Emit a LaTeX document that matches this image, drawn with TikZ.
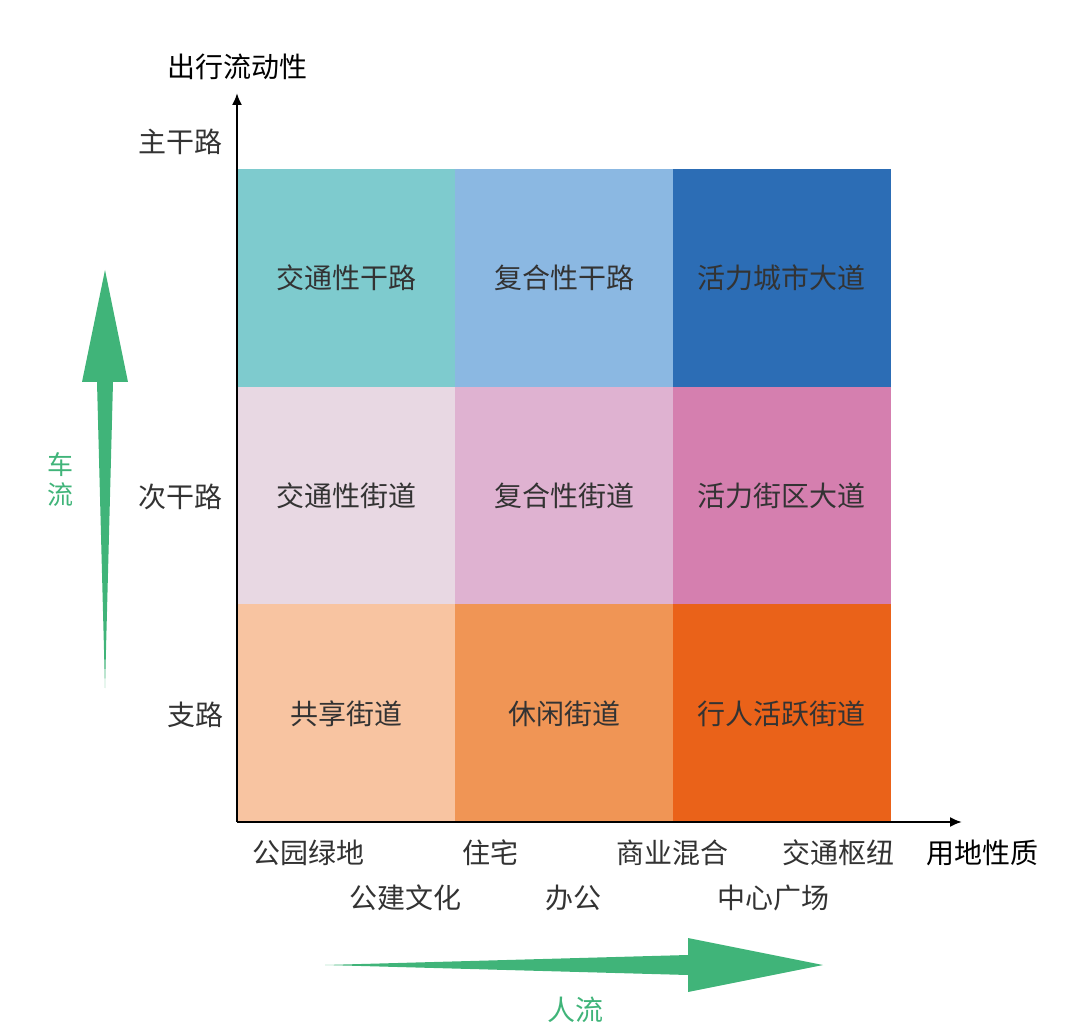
\documentclass[tikz,border=0pt]{standalone}
\usepackage{fontspec}
\setmainfont{Noto Sans CJK SC}
\usetikzlibrary{arrows.meta}
\begin{document}
\begin{tikzpicture}[x=1pt,y=-1pt,
  txt/.style={text=black!80,font=\fontsize{28}{30}\selectfont,inner sep=0pt},
  cell/.style={txt}]
\definecolor{g}{HTML}{40B479}
\useasboundingbox (0,0) rectangle (1069,1032);
\definecolor{c11}{HTML}{7ECBCE}\definecolor{c12}{HTML}{8BB8E2}\definecolor{c13}{HTML}{2C6DB5}
\definecolor{c21}{HTML}{E8D8E3}\definecolor{c22}{HTML}{DFB2D1}\definecolor{c23}{HTML}{D57FAF}
\definecolor{c31}{HTML}{F8C4A1}\definecolor{c32}{HTML}{F09555}\definecolor{c33}{HTML}{EA6219}
\foreach \c/\x in {1/237,2/455,3/673}{
 \foreach \r/\y in {1/169,2/387,3/604}{
  \fill[c\r\c] (\x,\y) rectangle (\x+218,\y+218);}}
\node[cell] (a) at (346,278) {交通性干路};
\node[cell] (b) at (564,278) {复合性干路};
\node[cell] (c) at (781,278) {活力城市大道};
\node[cell] (d) at (346,496) {交通性街道};
\node[cell] (e) at (564,496) {复合性街道};
\node[cell] (f) at (781,496) {活力街区大道};
\node[cell] (g1) at (346,714) {共享街道};
\node[cell] (h) at (564,714) {休闲街道};
\node[cell] (i) at (781,714) {行人活跃街道};
\coordinate (o) at (237,822);
\coordinate (yt) at (237,93);
\coordinate (xt) at (962,822);
\draw[line width=2pt,-{Latex[length=12pt,width=10pt]}] (o) -- (yt);
\draw[line width=2pt,-{Latex[length=12pt,width=10pt]}] (o) -- (xt);
\node[txt,text=black] at (237,67) {出行流动性};
\node[txt] at (180,142) {主干路};
\node[txt] at (180,497) {次干路};
\node[txt] at (195,715) {支路};
\node[txt] at (308,853) {公园绿地};
\node[txt] at (490,853) {住宅};
\node[txt] at (672,853) {商业混合};
\node[txt] at (838,853) {交通枢纽};
\node[txt,text=black] at (982,853) {用地性质};
\node[txt] at (405,898) {公建文化};
\node[txt] at (573,898) {办公};
\node[txt] at (773,898) {中心广场};
\fill[g] (105,270) -- (128,382) -- (113,382) -- (105,688) -- (97,382) -- (82,382) -- cycle;
\fill[g] (823,965) -- (688,938) -- (688,955) -- (325,965) -- (688,975) -- (688,992) -- cycle;
\node[txt,text=g,align=center,font=\fontsize{26}{30}\selectfont] at (60,480) {车\\流};
\node[txt,text=g] at (575,1010) {人流};
\end{tikzpicture}
\end{document}
